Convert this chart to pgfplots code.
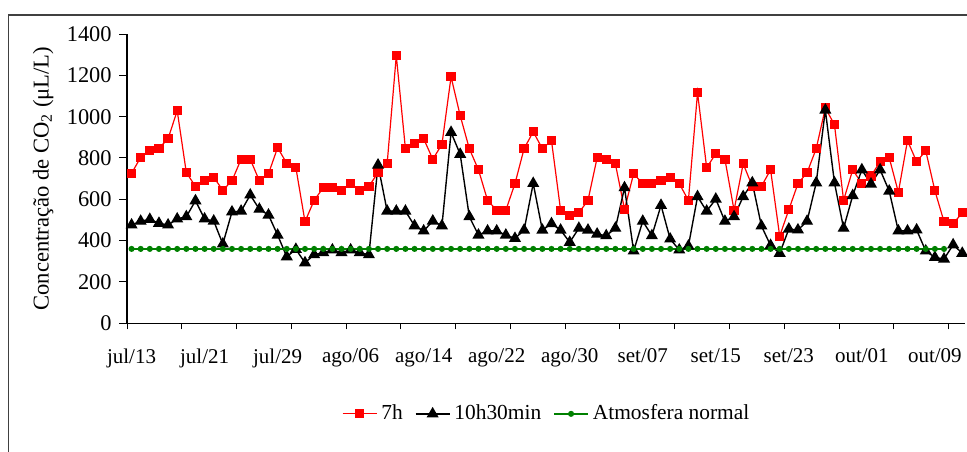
\documentclass[border=0pt]{standalone}
\usepackage{pgfplots}
\usepackage{pgfplotstable}
\usepackage{fontspec}
\setmainfont{Liberation Serif}
\pgfplotsset{compat=1.18}

% day index (0 = jul/13), 7h, 10h30min, atmosfera normal
\pgfplotstableread{
x r b g
0 726 476 360
1 803 494 360
2 837 503 360
3 847 484 360
4 893 476 360
5 1029 505 360
6 729 516 360
7 663 593 360
8 690 505 360
9 706 495 360
10 644 384 360
11 690 539 360
12 794 543 360
13 794 621 360
14 690 552 360
15 724 524 360
16 850 427 360
17 774 322 360
18 753 358 360
19 492 293 360
20 595 332 360
21 656 342 360
22 656 355 360
23 644 342 360
24 677 355 360
25 644 342 360
26 663 332 360
27 729 766 360
28 774 543 360
29 1295 543 360
30 845 543 360
31 869 472 360
32 893 447 360
33 794 495 360
34 866 472 360
35 1193 924 360
36 1005 818 360
37 845 516 360
38 743 427 360
39 595 447 360
40 547 447 360
41 547 427 360
42 676 411 360
43 845 451 360
44 927 677 360
45 845 451 360
46 884 482 360
47 547 451 360
48 523 392 360
49 535 460 360
50 595 451 360
51 801 432 360
52 794 424 360
53 772 460 360
54 552 656 360
55 724 350 360
56 676 494 360
57 676 424 360
58 690 571 360
59 706 408 360
60 676 355 360
61 595 374 360
62 1116 613 360
63 753 543 360
64 821 601 360
65 794 494 360
66 547 516 360
67 772 613 360
68 663 680 360
69 663 471 360
70 743 377 360
71 422 339 360
72 550 456 360
73 676 452 360
74 729 494 360
75 845 680 360
76 1042 1032 360
77 961 680 360
78 595 460 360
79 743 618 360
80 676 743 360
81 713 674 360
82 782 743 360
83 801 640 360
84 634 447 360
85 884 447 360
86 782 452 360
87 835 350 360
88 642 319 360
89 492 311 360
90 482 380 nan
91 535 339 nan
}\co

\definecolor{vermelho}{RGB}{255,0,0}
\definecolor{verde}{RGB}{0,128,0}

\begin{document}
\fontsize{10.5}{12.6}\selectfont
\begin{tikzpicture}
\useasboundingbox (0,0) rectangle (483.5pt,225.5pt);
% chart frame (cut at right and bottom)
\draw[line width=0.7pt, color=black!75] (4.15pt,-5pt) -- (4.15pt,218pt) -- (490pt,218pt);
\begin{axis}[
    at={(63.5pt,63.85pt)},
    anchor=south west,
    scale only axis,
    width=419pt,
    height=144.65pt,
    axis lines*=left,
    axis line style={line width=0.6pt},
    xmin=-0.5, xmax=91.3,
    ymin=0, ymax=1400,
    ytick={0,200,...,1400},
    xtick={0,8,...,88},
    xticklabels={jul/13,jul/21,jul/29,ago/06,ago/14,ago/22,ago/30,set/07,set/15,set/23,out/01,out/09},
    minor xtick={-0.5,5.5,...,90},
    tick align=outside,
    major tick length=4pt,
    minor tick length=3pt,
    every major x tick/.style={draw=none},
    every minor x tick/.style={black, line width=0.5pt},
    every major y tick/.style={black, line width=0.5pt},
    xticklabel style={yshift=-5pt, font=\fontsize{10.5}{12.6}\selectfont},
    yticklabel style={font=\fontsize{11.2}{13}\selectfont},
    /pgf/number format/assume math mode=true,
    /pgf/number format/1000 sep={},
    ylabel={Concentração de CO\textsubscript{2} (μL/L)},
    ylabel style={at={(axis description cs:-0.1,0.5)}, anchor=center,
        font=\fontsize{11.3}{13}\selectfont},
    legend style={at={(0.502,-0.313)}, anchor=center, draw=none,
        legend columns=3, font=\fontsize{10.7}{12.8}\selectfont,
        /tikz/every even column/.append style={column sep=4pt}},
    legend cell align=left,
]
\addplot[color=vermelho, line width=0.6pt, mark=square*, mark size=2pt,
    mark options={solid, fill=vermelho}] table[x=x, y=r] {\co};
\addlegendentry{7h}
\addplot[color=black, line width=0.7pt, mark=triangle*, mark size=2.8pt,
    mark options={solid, fill=black}] table[x=x, y=b] {\co};
\addlegendentry{10h30min}
\addplot[color=verde, line width=0.8pt, mark=*, mark size=1.1pt,
    mark options={solid, fill=verde}] table[x=x, y=g] {\co};
\addlegendentry{Atmosfera normal}
\end{axis}
\end{tikzpicture}
\end{document}
